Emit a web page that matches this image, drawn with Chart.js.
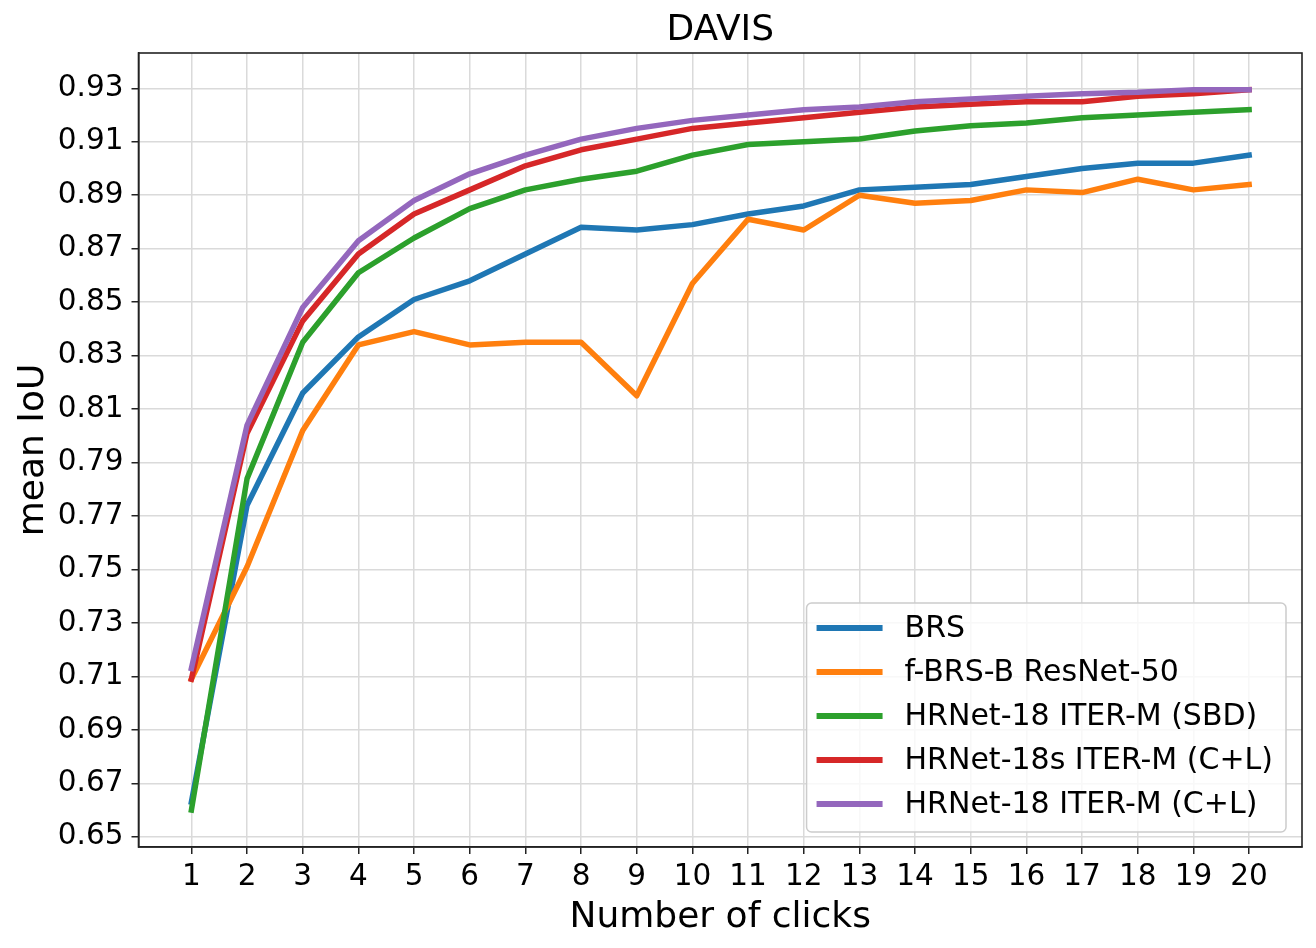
<!DOCTYPE html>
<html>
<head>
<meta charset="utf-8">
<title>DAVIS</title>
<script src="https://cdn.jsdelivr.net/npm/chart.js@4.4.0/dist/chart.umd.min.js"></script>
<style>
  html, body { margin: 0; padding: 0; background: #fff; }
  #wrap { width: 1316px; height: 948px; }
</style>
</head>
<body>
<div id="wrap"><canvas id="davisChart" width="1316" height="948"></canvas></div>
<script>
// number of clicks on the x axis
const clicks = [1, 2, 3, 4, 5, 6, 7, 8, 9, 10, 11, 12, 13, 14, 15, 16, 17, 18, 19, 20];

// mean IoU per click
const brs = [0.663, 0.774, 0.816, 0.837, 0.851, 0.858, 0.868, 0.878, 0.877, 0.879,
             0.883, 0.886, 0.892, 0.893, 0.894, 0.897, 0.900, 0.902, 0.902, 0.905];
const fbrsResNet50 = [0.709, 0.751, 0.802, 0.834, 0.839, 0.834, 0.835, 0.835, 0.815, 0.857,
                      0.881, 0.877, 0.890, 0.887, 0.888, 0.892, 0.891, 0.896, 0.892, 0.894];
const hrnet18Sbd = [0.660, 0.784, 0.835, 0.861, 0.874, 0.885, 0.892, 0.896, 0.899, 0.905,
                    0.909, 0.910, 0.911, 0.914, 0.916, 0.917, 0.919, 0.920, 0.921, 0.922];
const hrnet18sCL = [0.709, 0.801, 0.843, 0.868, 0.883, 0.892, 0.901, 0.907, 0.911, 0.915,
                    0.917, 0.919, 0.921, 0.923, 0.924, 0.925, 0.925, 0.927, 0.928, 0.9295];
const hrnet18CL = [0.713, 0.804, 0.848, 0.873, 0.888, 0.898, 0.905, 0.911, 0.915, 0.918,
                   0.920, 0.922, 0.923, 0.925, 0.926, 0.927, 0.928, 0.9285, 0.9295, 0.9295];

const seriesLabels = ['BRS', 'f-BRS-B ResNet-50', 'HRNet-18 ITER-M (SBD)',
                      'HRNet-18s ITER-M (C+L)', 'HRNet-18 ITER-M (C+L)'];
const seriesColors = ['#1f77b4', '#ff7f0e', '#2ca02c', '#d62728', '#9467bd'];

// y tick positions
const yTicks = [0.65, 0.67, 0.69, 0.71, 0.73, 0.75, 0.77, 0.79, 0.81, 0.83, 0.85, 0.87, 0.89, 0.91, 0.93];

const FONT = "'DejaVu Sans', sans-serif";
Chart.defaults.font.family = FONT;
Chart.defaults.color = '#000';

const allSeries = [brs, fbrsResNet50, hrnet18Sbd, hrnet18sCL, hrnet18CL];

// title centred over the plot area, like matplotlib's ax.set_title
const plotTitle = {
    id: 'plotTitle',
    afterDraw(chart) {
        const { ctx, chartArea } = chart;
        ctx.save();
        ctx.font = '36px ' + FONT;
        ctx.fillStyle = '#000';
        ctx.textAlign = 'center';
        ctx.textBaseline = 'middle';
        ctx.fillText('DAVIS', (chartArea.left + chartArea.right) / 2, 31);
        ctx.restore();
    }
};

// frame on all four sides + legend box in the lower right
const frameAndLegend = {
    id: 'frameAndLegend',
    afterDatasetsDraw(chart) {
        const { ctx, chartArea } = chart;
        ctx.save();
        ctx.strokeStyle = '#222';
        ctx.lineWidth = 1.6;
        ctx.strokeRect(chartArea.left, chartArea.top,
                       chartArea.right - chartArea.left, chartArea.bottom - chartArea.top);

        ctx.font = '30px ' + FONT;
        const sets = chart.data.datasets;
        const textW = Math.max(...sets.map(d => ctx.measureText(d.label).width));
        const rowH = 44;
        const w = 10 + 66 + 22 + textW + 13;
        const h = rowH * sets.length + 9;
        const x = chartArea.right - 16 - w;
        const y = chartArea.bottom - 15 - h;

        ctx.beginPath();
        ctx.roundRect(x, y, w, h, 5);
        ctx.fillStyle = 'rgba(255,255,255,0.8)';
        ctx.fill();
        ctx.strokeStyle = '#cccccc';
        ctx.lineWidth = 1.5;
        ctx.stroke();

        sets.forEach((d, i) => {
            const cy = y + 25 + i * rowH;
            ctx.strokeStyle = d.borderColor;
            ctx.lineWidth = 6;
            ctx.lineCap = 'butt';
            ctx.beginPath();
            ctx.moveTo(x + 10, cy);
            ctx.lineTo(x + 76, cy);
            ctx.stroke();
            ctx.fillStyle = '#000';
            ctx.textBaseline = 'middle';
            ctx.textAlign = 'left';
            ctx.fillText(d.label, x + 98, cy + 1);
        });
        ctx.restore();
    }
};

const ctx = document.getElementById('davisChart').getContext('2d');
const davisChart = new Chart(ctx, {
    type: 'line',
    data: {
        datasets: allSeries.map((vals, i) => ({
            label: seriesLabels[i],
            data: vals.map((v, k) => ({ x: clicks[k], y: v })),
            borderColor: seriesColors[i],
            backgroundColor: seriesColors[i],
            borderWidth: 5.5,
            borderCapStyle: 'square',
            borderJoinStyle: 'round',
            pointRadius: 0,
            tension: 0,
            fill: false,
            order: allSeries.length - 1 - i
        }))
    },
    options: {
        responsive: false,
        devicePixelRatio: 1,
        animation: false,
        layout: { padding: { left: 0, right: 14, top: 53, bottom: 0 } },
        plugins: {
            legend: { display: false },
            tooltip: { enabled: false },
            title: { display: false }
        },
        scales: {
            x: {
                type: 'linear',
                min: 0.05,
                max: 20.95,
                afterBuildTicks: s => { s.ticks = clicks.map(v => ({ value: v })); },
                afterFit: s => { s.height = 101; },
                ticks: {
                    autoSkip: false,
                    maxRotation: 0,
                    padding: 6,
                    font: { size: 29.5 },
                    color: '#000',
                    callback: v => String(v)
                },
                grid: { color: '#dadada', lineWidth: 1.5, tickLength: 7, tickColor: '#222', tickWidth: 1.5 },
                border: { color: '#222', width: 1.6 },
                title: {
                    display: true,
                    text: 'Number of clicks',
                    color: '#000',
                    font: { size: 36 },
                    padding: { top: 0, bottom: 9 }
                }
            },
            y: {
                type: 'linear',
                min: 0.6462,
                max: 0.9432,
                afterBuildTicks: s => { s.ticks = yTicks.map(v => ({ value: v })); },
                afterFit: s => { s.width = 138.5; },
                ticks: {
                    padding: 8,
                    font: { size: 29.5 },
                    color: '#000',
                    callback: v => v.toFixed(2)
                },
                grid: { color: '#dadada', lineWidth: 1.5, tickLength: 7, tickColor: '#222', tickWidth: 1.5 },
                border: { color: '#222', width: 1.6 },
                title: {
                    display: true,
                    text: 'mean IoU',
                    color: '#000',
                    font: { size: 36 },
                    padding: { top: 12, bottom: 0 }
                }
            }
        }
    },
    plugins: [frameAndLegend, plotTitle]
});
</script>
</body>
</html>
